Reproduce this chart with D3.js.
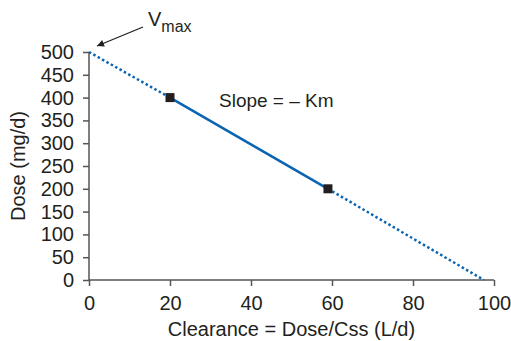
<!DOCTYPE html>
<html>
<head>
<meta charset="utf-8">
<script src="https://cdn.jsdelivr.net/npm/d3@7"></script>
<style>
  body { margin: 0; background: #fff; }
  svg text { font-family: "Liberation Sans", Arial, sans-serif; fill: #231f20; }
</style>
</head>
<body>
<svg id="chart" width="511" height="341"></svg>
<script>
// data
const clearance = [0, 20, 59, 97.5];
const dose = [500, 400, 200, 0];
const measuredIdx = [1, 2];
const xTicks = [0, 20, 40, 60, 80, 100];
const yTicks = [0, 50, 100, 150, 200, 250, 300, 350, 400, 450, 500];

const svg = d3.select("#chart");
const margin = { left: 89, right: 17, top: 52, bottom: 61 };
const width = 511, height = 341;

const x = d3.scaleLinear().domain([0, 100]).range([margin.left, width - margin.right]);
const y = d3.scaleLinear().domain([0, 500]).range([height - margin.bottom, margin.top]);

const axisColor = "#555";

// axes
const gx = svg.append("g")
    .attr("transform", `translate(0,${y(0)})`)
    .call(d3.axisBottom(x).tickValues(xTicks).tickSize(6).tickPadding(10));
const gy = svg.append("g")
    .attr("transform", `translate(${x(0)},0)`)
    .call(d3.axisLeft(y).tickValues(yTicks).tickSize(6).tickPadding(9));

[gx, gy].forEach(g => {
    g.selectAll("path, line").attr("stroke", axisColor).attr("stroke-width", 1.5);
    g.selectAll("text").style("font-size", "20px").attr("fill", "#231f20");
});
gx.select(".domain").attr("d", `M${x(0)},0H${x(100)}`);
gy.select(".domain").attr("d", `M0,${y(0)}V${y(500)}`);

// line
const pts = clearance.map((c, i) => [c, dose[i]]);
const line = d3.line().x(d => x(d[0])).y(d => y(d[1]));
const blue = "#0a64b4";

svg.append("path")
    .attr("d", line(pts.slice(0, 2)))
    .attr("fill", "none").attr("stroke", blue)
    .attr("stroke-width", 2.5).attr("stroke-dasharray", "2.5,2.5");
svg.append("path")
    .attr("d", line(pts.slice(2, 4)))
    .attr("fill", "none").attr("stroke", blue)
    .attr("stroke-width", 2.5).attr("stroke-dasharray", "2.5,2.5");
svg.append("path")
    .attr("d", line(pts.slice(1, 3)))
    .attr("fill", "none").attr("stroke", blue)
    .attr("stroke-width", 2.5);

// measured points
svg.selectAll("rect.pt")
    .data(measuredIdx.map(i => pts[i]))
    .join("rect")
    .attr("class", "pt")
    .attr("x", d => x(d[0]) - 4.5)
    .attr("y", d => y(d[1]) - 4.5)
    .attr("width", 9).attr("height", 9)
    .attr("fill", "#231f20");

// labels
svg.append("text")
    .attr("x", 291.5).attr("y", 336)
    .attr("text-anchor", "middle")
    .style("font-size", "20px")
    .text("Clearance = Dose/Css (L/d)");

svg.append("text")
    .attr("transform", `translate(25,${(y(0) + y(500)) / 2}) rotate(-90)`)
    .attr("text-anchor", "middle")
    .style("font-size", "20px")
    .text("Dose (mg/d)");

svg.append("text")
    .attr("x", 219).attr("y", 107)
    .style("font-size", "19px")
    .text("Slope = \u2013 Km");

// Vmax annotation
const vm = svg.append("text").attr("x", 148).attr("y", 26).style("font-size", "20px");
vm.append("tspan").text("V");
vm.append("tspan").attr("dy", 6).style("font-size", "16px").text("max");

svg.append("defs").append("marker")
    .attr("id", "arrow")
    .attr("viewBox", "0 0 10 10")
    .attr("refX", 10).attr("refY", 5)
    .attr("markerWidth", 10).attr("markerHeight", 7)
    .attr("markerUnits", "userSpaceOnUse")
    .attr("orient", "auto")
    .append("path").attr("d", "M0,0L10,5L0,10z").attr("fill", "#231f20");

svg.append("line")
    .attr("x1", 143).attr("y1", 27)
    .attr("x2", 97).attr("y2", 46)
    .attr("stroke", "#231f20").attr("stroke-width", 1.3)
    .attr("marker-end", "url(#arrow)");
</script>
</body>
</html>
